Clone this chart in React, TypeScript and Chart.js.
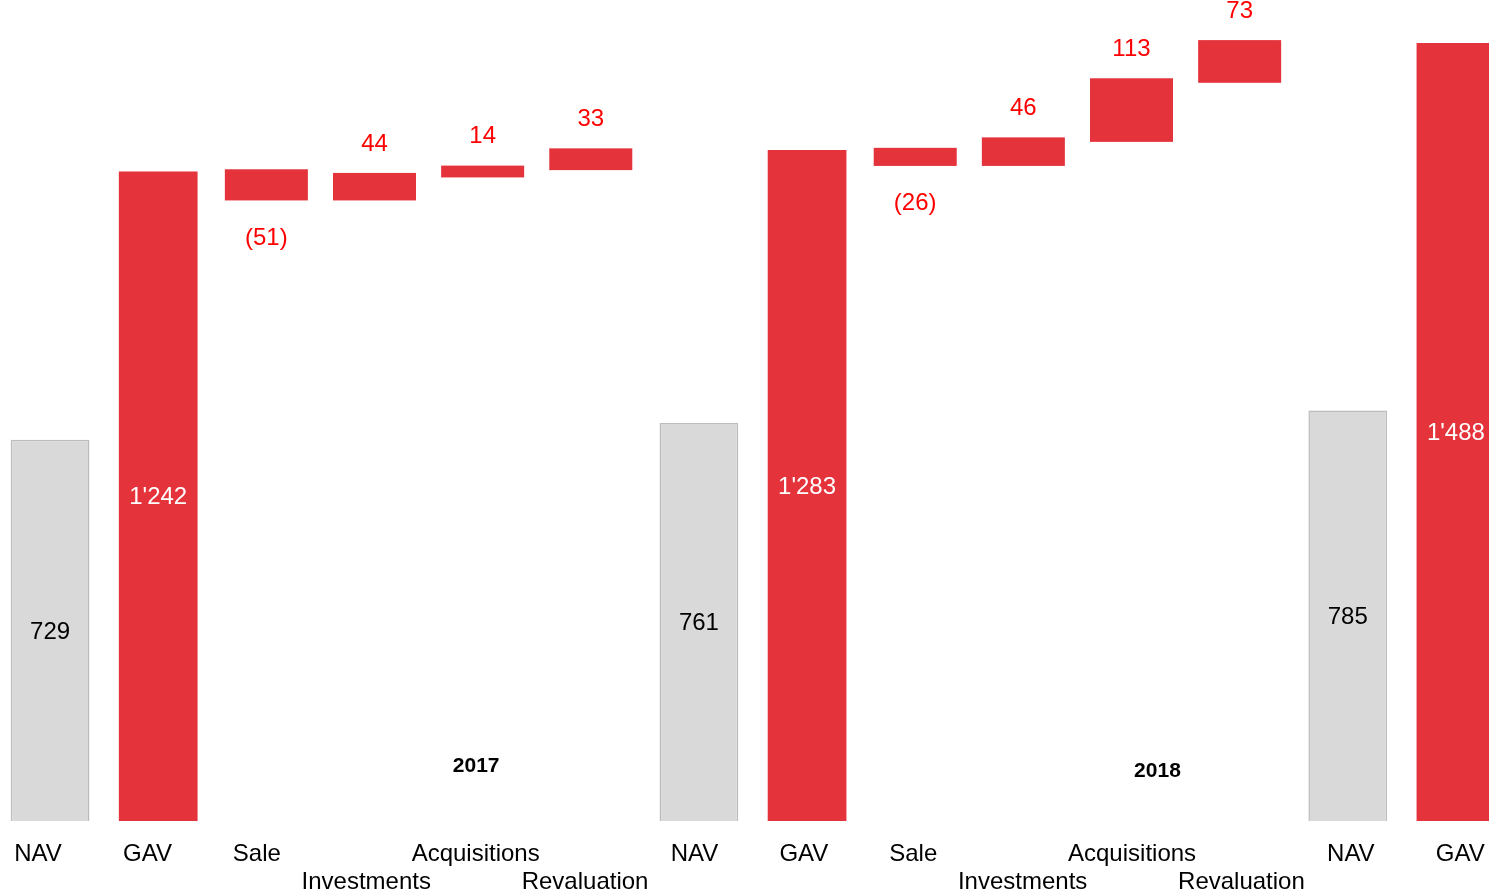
import React, { useEffect, useRef } from "react";
import { Chart, registerables } from "chart.js";

Chart.register(...registerables);

const categories = [
  "NAV", "GAV", "Sale", "Investments", "Acquisitions", "Revaluation",
  "NAV", "GAV", "Sale", "Investments", "Acquisitions", "Revaluation",
  "NAV", "GAV",
];
// Totals (NAV / GAV), null where the category is a change
const totals = [729, 1242, null, null, null, null, 761, 1283, null, null, null, null, 785, 1488];
// Changes between GAV levels, null where the category is a total
const changes = [null, null, -51, 44, 14, 33, null, null, -26, 46, 113, 73, null, null];
// Year annotations: fractional category index and value position
const yearLabels = ["2017", "2018"];
const yearAt = [3.94, 10.24];
const yearValue = [104, 96];

const FONT = '"Liberation Sans", Arial, Helvetica, sans-serif';
const RED = "#e5333b";
const LABEL_RED = "#ff0000";
const GRAY = "#d9d9d9";
const GRAY_BORDER = "#bcbcbc";
const CHANGE_OUTLINE = 4.5;

// category labels are spread slightly wider than the bars
const LABEL_STRETCH = 1.0116;
const LABEL_SHIFT = -0.111;

function fmt(v: number): string {
  const a = Math.abs(Math.round(v));
  const s = a.toString().replace(/\B(?=(\d{3})+(?!\d))/g, "'");
  return v < 0 ? `(${s})` : s;
}

// Build floating-bar data for changes from the running GAV level
function buildChangeBars(): ([number, number] | null)[] {
  let level = 0;
  return categories.map((c, i) => {
    if (totals[i] !== null && c === "GAV") {
      level = totals[i] as number;
      return null;
    }
    const ch = changes[i];
    if (ch === null) return null;
    const start = level;
    level = level + ch;
    return [start, level];
  });
}

export default function App() {
  const ref = useRef<HTMLCanvasElement | null>(null);

  useEffect(() => {
    if (!ref.current) return;
    const changeBars = buildChangeBars();

    const labelPlugin = {
      id: "valueLabels",
      afterDatasetsDraw(chart: any) {
        const ctx = chart.ctx;
        const xs = chart.scales.x;
        const ys = chart.scales.y;
        ctx.save();
        // outer outline of the change bars (same red)
        const m1 = chart.getDatasetMeta(1);
        ctx.strokeStyle = RED;
        ctx.lineWidth = CHANGE_OUTLINE;
        ctx.lineJoin = "miter";
        m1.data.forEach((el: any, i: number) => {
          if (changes[i] === null) return;
          const top = Math.min(el.y, el.base);
          const bottom = Math.max(el.y, el.base);
          ctx.strokeRect(el.x - el.width / 2, top, el.width, bottom - top);
        });

        ctx.textAlign = "center";
        ctx.textBaseline = "middle";
        ctx.font = `24px ${FONT}`;
        // totals
        const m0 = chart.getDatasetMeta(0);
        m0.data.forEach((el: any, i: number) => {
          const v = totals[i];
          if (v === null) return;
          const y = (el.y + el.base) / 2 + 1.5;
          ctx.fillStyle = categories[i] === "GAV" ? "#ffffff" : "#000000";
          ctx.fillText(fmt(v), el.x, y);
        });
        // changes
        m1.data.forEach((el: any, i: number) => {
          const v = changes[i];
          if (v === null) return;
          const top = Math.min(el.y, el.base);
          const bottom = Math.max(el.y, el.base);
          ctx.fillStyle = LABEL_RED;
          if (v >= 0) ctx.fillText(fmt(v), el.x, top - 31);
          else ctx.fillText(fmt(v), el.x, bottom + 40);
        });
        // category labels (two rows)
        ctx.fillStyle = "#000000";
        const row1 = xs.top + 33.5;
        const row2 = row1 + 27.5;
        categories.forEach((c, i) => {
          const x = xs.getPixelForValue(i * LABEL_STRETCH + LABEL_SHIFT);
          const second = c === "Investments" || c === "Revaluation";
          ctx.fillText(c, x, second ? row2 : row1);
        });
        // year annotations
        ctx.font = `bold 21px ${FONT}`;
        yearLabels.forEach((t, k) => {
          ctx.fillText(t, xs.getPixelForValue(yearAt[k]), ys.getPixelForValue(yearValue[k]));
        });
        ctx.restore();
      },
    };

    const chart = new Chart(ref.current, {
      type: "bar",
      data: {
        labels: categories,
        datasets: [
          {
            label: "Totals",
            data: totals as any,
            backgroundColor: categories.map((c) => (c === "GAV" ? RED : GRAY)),
            borderColor: categories.map((c) => (c === "GAV" ? RED : GRAY_BORDER)),
            borderWidth: categories.map((c) => (c === "GAV" ? 0 : 1.5)),
            barPercentage: 0.728,
            categoryPercentage: 1,
            grouped: false,
          } as any,
          {
            label: "Changes",
            data: changeBars as any,
            backgroundColor: RED,
            borderWidth: 0,
            barPercentage: 0.726,
            categoryPercentage: 1,
            grouped: false,
          } as any,
        ],
      },
      options: {
        animation: false,
        responsive: true,
        maintainAspectRatio: false,
        layout: { padding: 0 },
        plugins: {
          legend: { display: false },
          tooltip: { enabled: false },
          title: { display: false },
        },
        scales: {
          x: {
            offset: true,
            grid: { display: false, drawTicks: false },
            border: { display: false },
            ticks: { display: false, autoSkip: false },
            afterFit: (s: any) => {
              s.height = 72;
            },
          },
          y: {
            display: false,
            min: 0,
            max: 1570,
          },
        },
      },
      plugins: [labelPlugin],
    });

    return () => chart.destroy();
  }, []);

  return (
    <div
      style={{
        position: "fixed",
        left: 0,
        top: 0,
        width: 1489,
        height: 893,
        overflow: "hidden",
        background: "#ffffff",
      }}
    >
      <div style={{ position: "absolute", left: -4, top: 0, width: 1514, height: 893 }}>
        <canvas ref={ref} />
      </div>
    </div>
  );
}
